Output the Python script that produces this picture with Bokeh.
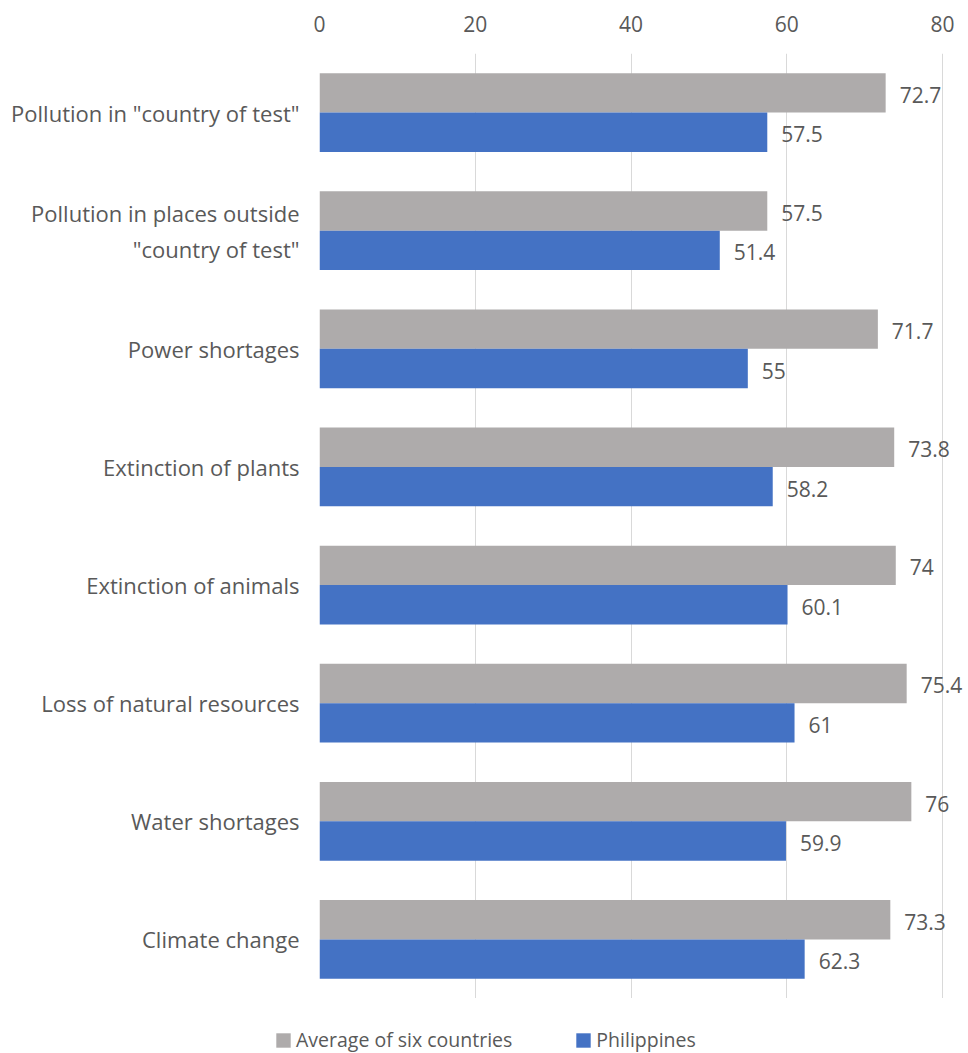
from bokeh.plotting import figure
from bokeh.layouts import column, row
from bokeh.models import FactorRange, Range1d, FixedTicker, ColumnDataSource, Legend, LegendItem, LabelSet
from bokeh.transform import dodge
from bokeh.core.properties import value
from bokeh.embed import file_html
from bokeh.resources import INLINE

categories = [
    'Pollution in "country of test"',
    'Pollution in places outside\n"country of test"',
    "Power shortages",
    "Extinction of plants",
    "Extinction of animals",
    "Loss of natural resources",
    "Water shortages",
    "Climate change",
]
series_names = ["Average of six countries", "Philippines"]
average_six = [72.7, 57.5, 71.7, 73.8, 74, 75.4, 76, 73.3]
philippines = [57.5, 51.4, 55, 58.2, 60.1, 61, 59.9, 62.3]
average_labels = ["72.7", "57.5", "71.7", "73.8", "74", "75.4", "76", "73.3"]
philippines_labels = ["57.5", "51.4", "55", "58.2", "60.1", "61", "59.9", "62.3"]
x_ticks = [0, 20, 40, 60, 80]

FONT = "Open Sans"
TXT = "#595959"
GRAY = "#AEABAB"
BLUE = "#4472C4"

src = ColumnDataSource(dict(cat=categories, avg=average_six, phl=philippines,
                            avg_lbl=average_labels, phl_lbl=philippines_labels))

# frame spans 319..968 px; 0..80 occupies 319..942
x_end = 80 * (968 - 319) / (942 - 319)

p = figure(width=968, height=998,
           output_backend="svg", toolbar_location=None,
           y_range=FactorRange(*list(reversed(categories))), x_range=Range1d(0, x_end),
           x_axis_location="above",
           min_border_left=319, min_border_right=0, min_border_top=53, min_border_bottom=0)
p.outline_line_color = None
p.background_fill_color = "white"

r1 = p.hbar(y=dodge("cat", 0.1667, range=p.y_range), right="avg", left=0, height=0.333,
            source=src, fill_color=GRAY, line_color=None)
r2 = p.hbar(y=dodge("cat", -0.1667, range=p.y_range), right="phl", left=0, height=0.333,
            source=src, fill_color=BLUE, line_color=None)

for col, lbl, off in (("avg", "avg_lbl", 0.1667), ("phl", "phl_lbl", -0.1667)):
    ls = LabelSet(x=col, y=dodge("cat", off, range=p.y_range), text=lbl, source=src,
                  x_offset=14, y_offset=-2, text_align="left", text_baseline="middle",
                  text_font=value(FONT), text_font_size="21px", text_color=TXT)
    p.add_layout(ls)

p.xaxis.ticker = FixedTicker(ticks=x_ticks)
p.xaxis.axis_line_color = None
p.xaxis.major_tick_line_color = None
p.xaxis.minor_tick_line_color = None
p.xaxis.major_label_standoff = 16
p.xaxis.major_label_text_font = FONT
p.xaxis.major_label_text_font_size = "21px"
p.xaxis.major_label_text_color = TXT

p.yaxis.axis_line_color = None
p.yaxis.major_tick_line_color = None
p.yaxis.minor_tick_line_color = None
p.yaxis.major_label_standoff = 14
p.yaxis.major_label_text_font = FONT
p.yaxis.major_label_text_font_size = "22px"
p.yaxis.major_label_text_color = TXT

p.xgrid.grid_line_color = "#D9D9D9"
p.xgrid.grid_line_width = 1
p.ygrid.grid_line_color = None

# legend strip below the chart (own figure, frame spans the whole strip)
lg = figure(width=968, height=55, output_backend="svg", toolbar_location=None,
            x_range=Range1d(0, 968), y_range=Range1d(0, 55),
            x_axis_location=None, y_axis_location=None,
            min_border_left=0, min_border_right=0, min_border_top=0, min_border_bottom=0)
lg.outline_line_color = None
lg.xgrid.grid_line_color = None
lg.ygrid.grid_line_color = None
# zero-size proxy glyphs that carry the series colours for the legend swatches
d1 = lg.hbar(y=[0], right=[0], left=[0], height=0, fill_color=GRAY, line_color=None)
d2 = lg.hbar(y=[0], right=[0], left=[0], height=0, fill_color=BLUE, line_color=None)

legend = Legend(items=[LegendItem(label=series_names[0], renderers=[d1]),
                       LegendItem(label=series_names[1], renderers=[d2])],
                orientation="horizontal", location=(274, 0),
                padding=0, margin=0, spacing=62, border_line_color=None,
                background_fill_alpha=0, glyph_width=18, glyph_height=18,
                label_standoff=4,
                label_text_font=FONT, label_text_font_size="19.5px", label_text_color=TXT)
lg.add_layout(legend, "center")

open("out.html", "w").write(file_html(column(p, row(lg), spacing=0), INLINE))
